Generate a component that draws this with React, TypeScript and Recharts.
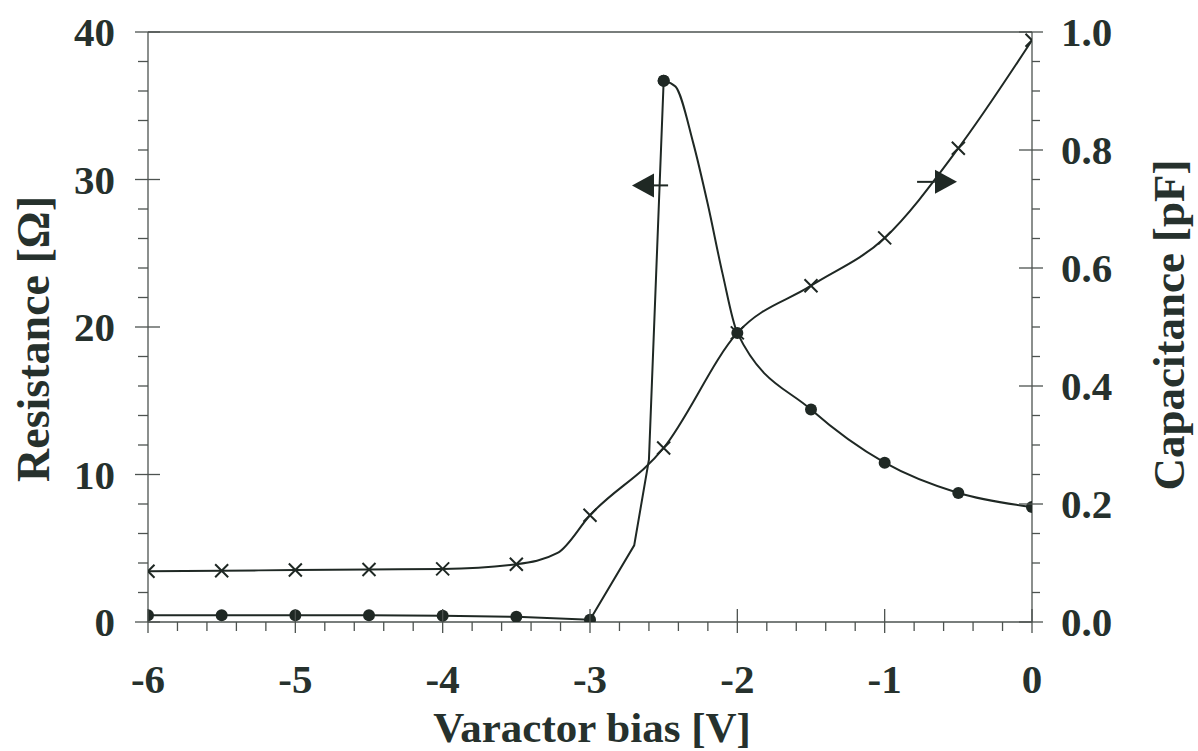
import React from 'react';
import { ComposedChart, Line, XAxis, YAxis, ReferenceLine, ReferenceDot } from 'recharts';

// Resistance [Ω] (left axis) – rising branch up to the peak
const riseBias = [-6, -5.5, -5, -4.5, -4, -3.5, -3, -2.7, -2.6, -2.5];
const riseResistance = [0.45, 0.45, 0.45, 0.45, 0.43, 0.35, 0.15, 5.2, 11, 36.7];
// Resistance – falling branch after the peak
const fallBias = [-2.5, -2.42, -2.3, -2.2, -2.1, -2, -1.5, -1, -0.5, 0];
const fallResistance = [36.7, 36.3, 32.5, 28.3, 23.6, 19.6, 14.4, 10.8, 8.75, 7.8];

// Capacitance [pF] (right axis)
const capBias = [-6, -5.5, -5, -4.5, -4, -3.5, -3.22, -3, -2.5, -2, -1.5, -1, -0.5, 0];
const capacitance = [0.086, 0.087, 0.088, 0.089, 0.09, 0.098, 0.117, 0.181, 0.295, 0.49, 0.57, 0.651, 0.803, 0.986];

// Tick labels
const xMajorTicks = [-6, -5, -4, -3, -2, -1, 0];
const leftMajorTicks = [0, 10, 20, 30, 40];
const rightMajorTicks = [0, 0.2, 0.4, 0.6, 0.8, 1.0];

// Arrow annotations (direction indicators)
const leftArrowTip = { x: -2.715, y: 29.6 };
const leftArrowStem = [{ x: -2.57, y: 29.6 }, { x: -2.47, y: 29.6 }];
const rightArrowTip = { x: -0.509, y: 0.746 };
const rightArrowStem = [{ x: -0.78, y: 0.746 }, { x: -0.66, y: 0.746 }];

const xTicks = Array.from({ length: 31 }, (_, i) => Math.round((-6 + i * 0.2) * 10) / 10);
const leftTicks = Array.from({ length: 21 }, (_, i) => i * 2);
const rightTicks = Array.from({ length: 21 }, (_, i) => Math.round(i * 5) / 100);

const riseData = riseBias.map((b, i) => ({ bias: b, r: riseResistance[i] }));
const fallData = fallBias.map((b, i) => ({ bias: b, r: fallResistance[i] }));
const capData = capBias.map((b, i) => ({ bias: b, c: capacitance[i] }));

const FONT = 'Liberation Serif, Times New Roman, Times, serif';
const INK = '#1f2824';
const TEXT = '#26312d';
const AXIS = '#4d5350';
const textStyle = { fontFamily: FONT, fontWeight: 700 } as React.CSSProperties;

const isMajor = (v: number, majors: number[]) => majors.some((m) => Math.abs(m - v) < 1e-6);
const isMarked = (b: number) => Math.abs(b * 2 - Math.round(b * 2)) < 1e-6;

const XTick = (props: any) => {
  const { x, y, payload } = props;
  const v = payload.value;
  const major = isMajor(v, xMajorTicks);
  return (
    <g>
      {major ? (
        <line x1={x} x2={x} y1={y - 13} y2={y + 11} stroke={AXIS} strokeWidth={1.3} />
      ) : (
        <line x1={x} x2={x} y1={y} y2={y + 9} stroke={AXIS} strokeWidth={1.3} />
      )}
      {major && (
        <text x={x} y={y + 71} textAnchor="middle" style={textStyle} fontSize={41} fill={TEXT}>
          {String(Math.round(v))}
        </text>
      )}
    </g>
  );
};

const LeftTick = (props: any) => {
  const { x, y, payload } = props;
  const v = payload.value;
  const major = isMajor(v, leftMajorTicks);
  return (
    <g>
      {major ? (
        <line x1={x - 13} x2={x + 12} y1={y} y2={y} stroke={AXIS} strokeWidth={1.3} />
      ) : (
        <line x1={x - 10} x2={x} y1={y} y2={y} stroke={AXIS} strokeWidth={1.3} />
      )}
      {major && (
        <text x={x - 33} y={y + 14} textAnchor="end" style={textStyle} fontSize={41} fill={TEXT}>
          {String(Math.round(v))}
        </text>
      )}
    </g>
  );
};

const RightTick = (props: any) => {
  const { x, y, payload } = props;
  const v = payload.value;
  const major = isMajor(v, rightMajorTicks);
  return (
    <g>
      {major ? (
        <line x1={x - 13} x2={x + 11} y1={y} y2={y} stroke={AXIS} strokeWidth={1.3} />
      ) : (
        <line x1={x} x2={x + 8} y1={y} y2={y} stroke={AXIS} strokeWidth={1.3} />
      )}
      {major && (
        <text x={x + 29} y={y + 14} textAnchor="start" style={textStyle} fontSize={41} fill={TEXT}>
          {v.toFixed(1)}
        </text>
      )}
    </g>
  );
};

const circleDot = (props: any) => {
  const { cx, cy, payload, index } = props;
  if (!isMarked(payload.bias) || cx == null) return <g key={`cd-${index}`} />;
  return <circle key={`cd-${index}`} cx={cx} cy={cy} r={6} fill={INK} stroke="none" />;
};

const crossDot = (props: any) => {
  const { cx, cy, payload, index } = props;
  if (!isMarked(payload.bias) || cx == null) return <g key={`xd-${index}`} />;
  const s = 6.5;
  return (
    <path
      key={`xd-${index}`}
      d={`M${cx - s},${cy - s}L${cx + s},${cy + s}M${cx - s},${cy + s}L${cx + s},${cy - s}`}
      stroke={INK}
      strokeWidth={2}
      fill="none"
    />
  );
};

const leftTriangle = (p: any) => (
  <path d={`M${p.cx},${p.cy}L${p.cx + 22},${p.cy - 12}L${p.cx + 22},${p.cy + 12}Z`} fill={INK} />
);
const rightTriangle = (p: any) => (
  <path d={`M${p.cx},${p.cy}L${p.cx - 22},${p.cy - 12}L${p.cx - 22},${p.cy + 12}Z`} fill={INK} />
);

const LeftTitle = (props: any) => {
  const vb = props.viewBox;
  const cx = vb.x + 33;
  const cy = vb.y + vb.height / 2 + 12;
  return (
    <text x={cx} y={cy} transform={`rotate(-90 ${cx} ${cy})`} textAnchor="middle" dominantBaseline="central"
      style={textStyle} fontSize={46} fill={TEXT}>
      Resistance [Ω]
    </text>
  );
};

const RightTitle = (props: any) => {
  const vb = props.viewBox;
  const cx = vb.x + 137;
  const cy = vb.y + vb.height / 2 - 2;
  return (
    <text x={cx} y={cy} transform={`rotate(-90 ${cx} ${cy})`} textAnchor="middle" dominantBaseline="central"
      style={textStyle} fontSize={45} fill={TEXT}>
      Capacitance [pF]
    </text>
  );
};

const BottomTitle = (props: any) => {
  const vb = props.viewBox;
  return (
    <text x={vb.x + vb.width / 2 + 2} y={vb.y + 120} textAnchor="middle"
      style={textStyle} fontSize={43} fill={TEXT}>
      Varactor bias [V]
    </text>
  );
};

export default function App() {
  return (
    <div style={{ position: 'absolute', left: 0, top: 0, width: 1198, height: 751, background: '#fff' }}>
      <ComposedChart width={1198} height={751} margin={{ top: 32, right: 0, bottom: 0, left: 0 }}>
        <XAxis
          dataKey="bias"
          type="number"
          domain={[-6, 0]}
          ticks={xTicks}
          interval={0}
          tickSize={0}
          tickMargin={0}
          tick={<XTick />}
          tickLine={false}
          axisLine={{ stroke: AXIS, strokeWidth: 1.3 }}
          height={129}
          allowDataOverflow
          label={<BottomTitle />}
        />
        <YAxis
          yAxisId="left"
          orientation="left"
          type="number"
          domain={[0, 40]}
          ticks={leftTicks}
          interval={0}
          tickSize={0}
          tickMargin={0}
          tick={<LeftTick />}
          tickLine={false}
          axisLine={{ stroke: AXIS, strokeWidth: 1.3 }}
          width={148}
          allowDataOverflow
          label={<LeftTitle />}
        />
        <YAxis
          yAxisId="right"
          orientation="right"
          type="number"
          domain={[0, 1]}
          ticks={rightTicks}
          interval={0}
          tickSize={0}
          tickMargin={0}
          tick={<RightTick />}
          tickLine={false}
          axisLine={{ stroke: AXIS, strokeWidth: 1.3 }}
          width={166}
          allowDataOverflow
          label={<RightTitle />}
        />
        <ReferenceLine yAxisId="left" y={40} stroke={AXIS} strokeWidth={1.3} />
        <Line
          yAxisId="right"
          data={capData}
          dataKey="c"
          type="monotone"
          stroke={INK}
          strokeWidth={2}
          dot={crossDot}
          activeDot={false}
          isAnimationActive={false}
        />
        <Line
          yAxisId="left"
          data={riseData}
          dataKey="r"
          type="linear"
          stroke={INK}
          strokeWidth={2}
          dot={circleDot}
          activeDot={false}
          isAnimationActive={false}
        />
        <Line
          yAxisId="left"
          data={fallData}
          dataKey="r"
          type="monotone"
          stroke={INK}
          strokeWidth={2}
          dot={circleDot}
          activeDot={false}
          isAnimationActive={false}
        />
        <ReferenceLine yAxisId="left" segment={leftArrowStem} stroke={INK} strokeWidth={2} />
        <ReferenceDot yAxisId="left" x={leftArrowTip.x} y={leftArrowTip.y} shape={leftTriangle} />
        <ReferenceLine yAxisId="right" segment={rightArrowStem} stroke={INK} strokeWidth={2} />
        <ReferenceDot yAxisId="right" x={rightArrowTip.x} y={rightArrowTip.y} shape={rightTriangle} />
      </ComposedChart>
    </div>
  );
}
